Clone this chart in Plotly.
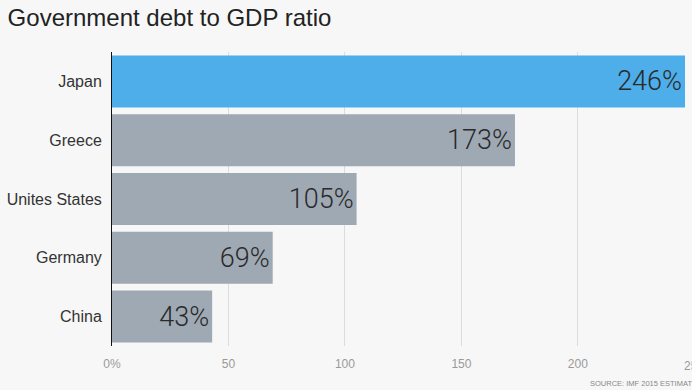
import plotly.graph_objects as go

countries = ["Japan", "Greece", "Unites States", "Germany", "China"]
debt_ratio = [246, 173, 105, 69, 43]
bar_colors = ["#4daeea", "#9fa9b4", "#9fa9b4", "#9fa9b4", "#9fa9b4"]
tick_vals = [0, 50, 100, 150, 200]
tick_text = ["0%", "50", "100", "150", "200"]

fig = go.Figure(go.Bar(
    x=debt_ratio,
    y=countries,
    orientation="h",
    marker=dict(color=bar_colors, line=dict(width=0)),
    text=[f"{v}%" for v in debt_ratio],
    textposition="inside",
    insidetextanchor="end",
    textfont=dict(family="Roboto", size=27, color="#2a2a2a", weight=300),
    cliponaxis=False,
))

fig.update_layout(
    width=692, height=390,
    margin=dict(l=112, r=0, t=52, b=44),
    paper_bgcolor="#f7f7f7",
    plot_bgcolor="#f7f7f7",
    bargap=0.115,
    showlegend=False,
    font=dict(family="Liberation Sans, Arial, sans-serif"),
    title=dict(text="Government debt to GDP ratio", x=0.011, xanchor="left",
               y=0.955, yanchor="middle",
               font=dict(family="Liberation Sans, Arial", size=24, color="#222")),
    xaxis=dict(range=[0, 249], tickvals=tick_vals, ticktext=tick_text,
               showgrid=True, gridcolor="#dcdcdc", gridwidth=1,
               zeroline=False, showline=False,
               tickfont=dict(size=12, color="#9a9a9a"), ticks="", ticklabelstandoff=9),
    yaxis=dict(autorange="reversed", showline=True, linecolor="#111", linewidth=1,
               ticks="", tickfont=dict(size=16, color="#333"), ticklabelstandoff=6),
)

fig.add_annotation(x=250 / 249, y=-0.036, xref="paper", yref="paper", text="250", showarrow=False,
                   xanchor="center", yanchor="top", font=dict(size=12, color="#9a9a9a"))
fig.add_annotation(x=0.82, y=-0.127, xref="paper", yref="paper", text="SOURCE: IMF 2015 ESTIMATES",
                   showarrow=False, xanchor="left", yanchor="middle",
                   font=dict(size=7.5, color="#888"))

fig.write_html("out.html", config={"displayModeBar": False},
               post_script="document.body.style.margin='0px';")
